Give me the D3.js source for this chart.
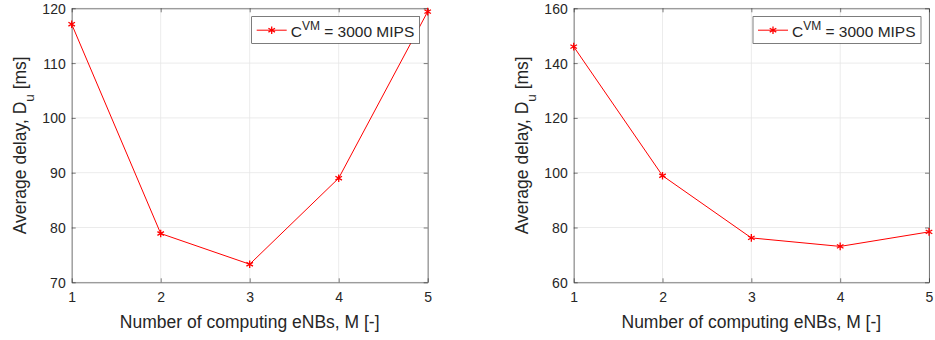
<!DOCTYPE html>
<html>
<head>
<meta charset="utf-8">
<script src="https://cdn.jsdelivr.net/npm/d3@7"></script>
<style>
  body { margin: 0; background: #fff; }
  svg text { font-family: "Liberation Sans", Arial, sans-serif; fill: #262626; }
</style>
</head>
<body>
<div id="chart"></div>
<script>
// Data
const eNBs = [1, 2, 3, 4, 5];
const delayLeft = [117.1, 78.9, 73.3, 89.0, 119.4];
const delayRight = [146.0, 98.9, 76.2, 73.1, 78.4];
const leftTicks = [70, 80, 90, 100, 110, 120];
const rightTicks = [60, 80, 100, 120, 140, 160];
const seriesLabel = "3000 MIPS";

const W = 935, H = 340;
const svg = d3.select("#chart").append("svg")
  .attr("width", W).attr("height", H);

function drawPanel(x0, x1, values, yTicks) {
  const top = 8.3, bottom = 282.3;
  const x = d3.scaleLinear().domain([1, 5]).range([x0, x1]);
  const y = d3.scaleLinear().domain([yTicks[0], yTicks[yTicks.length - 1]]).range([bottom, top]);
  const g = svg.append("g");

  // Grid
  g.selectAll(".vgrid").data(eNBs).join("line")
    .attr("x1", d => x(d)).attr("x2", d => x(d))
    .attr("y1", top).attr("y2", bottom)
    .attr("stroke", "#e6e6e6").attr("stroke-width", 0.8);
  g.selectAll(".hgrid").data(yTicks).join("line")
    .attr("x1", x0).attr("x2", x1)
    .attr("y1", d => y(d)).attr("y2", d => y(d))
    .attr("stroke", "#e6e6e6").attr("stroke-width", 0.8);

  // Axes (box, ticks inward)
  const ax = g.append("g").attr("transform", `translate(0,${bottom})`)
    .call(d3.axisBottom(x).tickValues(eNBs).tickFormat(d3.format("d")).tickSizeInner(-4).tickSizeOuter(0).tickPadding(10));
  const axT = g.append("g").attr("transform", `translate(0,${top})`)
    .call(d3.axisTop(x).tickValues(eNBs).tickFormat("").tickSizeInner(-4).tickSizeOuter(0));
  const ay = g.append("g").attr("transform", `translate(${x0},0)`)
    .call(d3.axisLeft(y).tickValues(yTicks).tickSizeInner(-4).tickSizeOuter(0).tickPadding(6));
  const ayR = g.append("g").attr("transform", `translate(${x1},0)`)
    .call(d3.axisRight(y).tickValues(yTicks).tickFormat("").tickSizeInner(-4).tickSizeOuter(0));
  [ax, axT, ay, ayR].forEach(a => {
    a.selectAll("path").attr("stroke", "#262626").attr("stroke-width", 0.6);
    a.selectAll("line").attr("stroke", "#262626").attr("stroke-width", 0.6);
    a.selectAll("text").style("font-size", "14px").attr("fill", "#262626");
  });
  ay.selectAll("text").attr("dy", "0.35em");

  // Line
  g.append("path").datum(values)
    .attr("fill", "none").attr("stroke", "#ff0000").attr("stroke-width", 1)
    .attr("d", d3.line().x((d, i) => x(eNBs[i])).y(d => y(d)));

  const star = d3.symbol().type(d3.symbolAsterisk).size(40);
  g.selectAll(".mk").data(values).join("path")
    .attr("transform", (d, i) => `translate(${x(eNBs[i])},${y(d)})`)
    .attr("d", star).attr("fill", "none").attr("stroke", "#ff0000").attr("stroke-width", 1.3);

  // Axis labels
  g.append("text")
    .attr("x", (x0 + x1) / 2).attr("y", 327.5)
    .attr("text-anchor", "middle").style("font-size", "17.5px")
    .text("Number of computing eNBs, M [-]");
  const yl = g.append("text")
    .attr("transform", `translate(${x0 - 46},${(top + bottom) / 2}) rotate(-90)`)
    .attr("text-anchor", "middle").style("font-size", "17.5px");
  yl.append("tspan").text("Average delay, D");
  yl.append("tspan").attr("baseline-shift", "sub").style("font-size", "13.5px").text("u");
  yl.append("tspan").text(" [ms]");

  // Legend
  const lx0 = x1 - 176, lw = 168, ly0 = 16.7, lh = 26.6;
  const lg = g.append("g");
  lg.append("rect").attr("x", lx0).attr("y", ly0).attr("width", lw).attr("height", lh)
    .attr("fill", "#fff").attr("stroke", "#262626").attr("stroke-width", 0.6);
  lg.append("line").attr("x1", lx0 + 5).attr("x2", lx0 + 35)
    .attr("y1", ly0 + 13.5).attr("y2", ly0 + 13.5)
    .attr("stroke", "#ff0000").attr("stroke-width", 1);
  lg.append("path").attr("transform", `translate(${lx0 + 20},${ly0 + 13.5})`)
    .attr("d", star).attr("fill", "none").attr("stroke", "#ff0000").attr("stroke-width", 1.3);
  const lt = lg.append("text").attr("x", lx0 + 39).attr("y", ly0 + 20).style("font-size", "15.5px");
  lt.append("tspan").text("C");
  lt.append("tspan").attr("dy", -7).style("font-size", "12px").text("VM");
  lt.append("tspan").attr("dy", 7).text(" = " + seriesLabel);
}

drawPanel(71.7, 427.7, delayLeft, leftTicks);
drawPanel(573.7, 929, delayRight, rightTicks);
</script>
</body>
</html>
